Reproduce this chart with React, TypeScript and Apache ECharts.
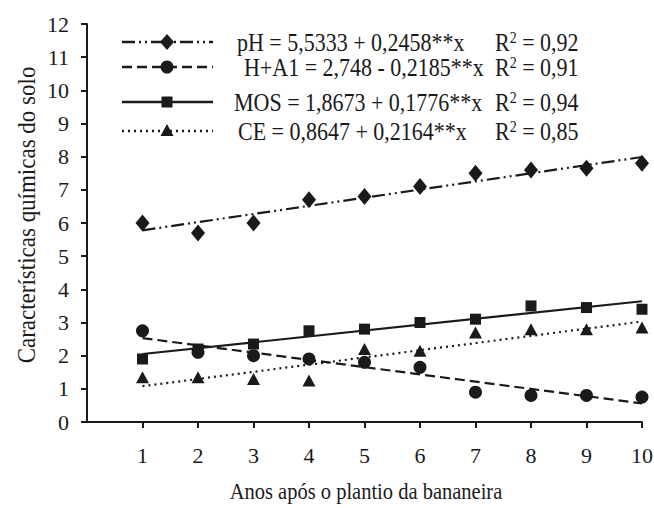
import React, { useEffect, useRef } from "react";
import * as echarts from "echarts";

const years = [1, 2, 3, 4, 5, 6, 7, 8, 9, 10];
const xTicks = [1, 2, 3, 4, 5, 6, 7, 8, 9, 10];
const pHValues = [6.0, 5.7, 6.0, 6.7, 6.8, 7.1, 7.5, 7.6, 7.65, 7.8];
const hAlValues = [2.75, 2.1, 2.0, 1.9, 1.8, 1.65, 0.9, 0.8, 0.8, 0.75];
const mosValues = [1.9, 2.2, 2.35, 2.75, 2.8, 3.0, 3.1, 3.5, 3.45, 3.4];
const ceValues = [1.35, 1.35, 1.3, 1.25, 2.2, 2.15, 2.7, 2.8, 2.8, 2.85];
// fitted lines (start at year 1, end at year 10)
const trendX = [1, 10];
const pHTrend = [5.78, 7.99];
const hAlTrend = [2.53, 0.56];
const mosTrend = [2.05, 3.64];
const ceTrend = [1.08, 3.03];
const equations = [
  "pH = 5,5333 + 0,2458**x",
  "H+A1 = 2,748 - 0,2185**x",
  "MOS = 1,8673 + 0,1776**x",
  "CE = 0,8647 + 0,2164**x",
];
const r2Values = ["0,92", "0,91", "0,94", "0,85"];

const FONT = "Liberation Serif";
const INK = "#1a1a1a";
const STRETCH = 1.15;

const pairs = (xs: number[], ys: number[]) => xs.map((x, i) => [x, ys[i]]);

export default function App() {
  const ref = useRef<HTMLDivElement>(null);
  useEffect(() => {
    document.body.style.margin = "0";
    if (!ref.current) return;
    const chart = echarts.init(ref.current, undefined, { renderer: "svg" });

    const dashes: (number[] | null)[] = [
      [13, 4, 2, 4, 2, 4],
      [10, 5],
      null,
      [2, 4],
    ];
    const rowY = [42, 67, 102, 131];
    const textX = [237, 244, 234, 238];
    const lx1 = 122, lx2 = 213, mx = 167;

    const legendGraphics: any[] = [];
    rowY.forEach((y, i) => {
      legendGraphics.push({
        type: "line",
        shape: { x1: lx1, y1: y, x2: lx2, y2: y },
        style: {
          stroke: INK,
          lineWidth: 2.4,
          lineDash: dashes[i] || undefined,
        },
        silent: true,
      });
      let marker: any;
      if (i === 0) {
        marker = {
          type: "polygon",
          shape: { points: [[mx, y - 8], [mx + 7, y], [mx, y + 8], [mx - 7, y]] },
        };
      } else if (i === 1) {
        marker = { type: "circle", shape: { cx: mx, cy: y, r: 6.5 } };
      } else if (i === 2) {
        marker = { type: "rect", shape: { x: mx - 5.5, y: y - 5.5, width: 11, height: 11 } };
      } else {
        marker = {
          type: "polygon",
          shape: { points: [[mx, y - 7], [mx + 6.5, y + 5], [mx - 6.5, y + 5]] },
        };
      }
      marker.style = { fill: INK };
      marker.silent = true;
      legendGraphics.push(marker);
      legendGraphics.push({
        type: "text",
        x: textX[i],
        y: y,
        scaleY: STRETCH,
        style: {
          text: equations[i],
          fontFamily: FONT,
          fontSize: 22,
          fill: INK,
          verticalAlign: "middle",
          align: "left",
        },
        silent: true,
      });
      legendGraphics.push({
        type: "text",
        x: 495,
        y: y,
        scaleY: STRETCH,
        style: {
          text: "{a|R}{s|2}{a| = " + r2Values[i] + "}",
          fill: INK,
          verticalAlign: "middle",
          align: "left",
          rich: {
            a: { fontFamily: FONT, fontSize: 22, color: INK },
            s: { fontFamily: FONT, fontSize: 14, color: INK, verticalAlign: "top", padding: [0, 0, 8, 0] },
          },
        },
        silent: true,
      });
    });

    const trendSeries = (data: number[], dash: number[] | null) => ({
      type: "line",
      data: pairs(trendX, data),
      showSymbol: false,
      symbol: "none",
      lineStyle: {
        color: INK,
        width: 2.2,
        type: dash || "solid",
      },
      silent: true,
      z: 2,
    });
    const scatterSeries = (data: number[], symbol: string, size: any) => ({
      type: "scatter",
      data: pairs(years, data),
      symbol,
      symbolSize: size,
      itemStyle: { color: INK, opacity: 1 },
      z: 3,
    });

    chart.setOption({
      animation: false,
      backgroundColor: "#ffffff",
      grid: { left: 87, right: 12, top: 24, bottom: 86, containLabel: false, outerBoundsMode: "none" },
      xAxis: {
        type: "value",
        min: 0,
        max: 10,
        interval: 1,
        axisLine: { show: true, lineStyle: { color: INK, width: 2 } },
        axisTick: { show: true, inside: false, length: 6, lineStyle: { color: INK, width: 2 }, customValues: xTicks },
        axisLabel: {
          fontFamily: FONT,
          fontSize: 22,
          color: INK,
          margin: 22,
          customValues: xTicks,
        },
        splitLine: { show: false },
      },
      yAxis: {
        type: "value",
        min: 0,
        max: 12,
        interval: 1,
        axisLine: { show: true, lineStyle: { color: INK, width: 2 } },
        axisTick: { show: true, inside: false, length: 6, lineStyle: { color: INK, width: 2 } },
        axisLabel: { fontFamily: FONT, fontSize: 22, color: INK, margin: 18 },
        splitLine: { show: false },
      },
      graphic: [
        ...legendGraphics,
        {
          type: "text",
          x: 26,
          y: 215,
          rotation: Math.PI / 2,
          scaleY: 1.1,
          style: {
            text: "Características químicas do solo",
            fontFamily: FONT,
            fontSize: 23,
            fill: INK,
            align: "center",
            verticalAlign: "middle",
          },
          silent: true,
        },
        {
          type: "text",
          x: 366,
          y: 491,
          scaleY: STRETCH,
          style: {
            text: "Anos após o plantio da bananeira",
            fontFamily: FONT,
            fontSize: 20.5,
            fill: INK,
            align: "center",
            verticalAlign: "middle",
          },
          silent: true,
        },
      ],
      series: [
        trendSeries(pHTrend, dashes[0]),
        trendSeries(hAlTrend, dashes[1]),
        trendSeries(mosTrend, null),
        trendSeries(ceTrend, dashes[3]),
        scatterSeries(pHValues, "diamond", [14, 17]),
        scatterSeries(hAlValues, "circle", 13),
        scatterSeries(mosValues, "rect", 11),
        scatterSeries(ceValues, "triangle", [13, 12]),
      ],
    });
    return () => chart.dispose();
  }, []);
  return <div ref={ref} style={{ width: 654, height: 508 }} />;
}
